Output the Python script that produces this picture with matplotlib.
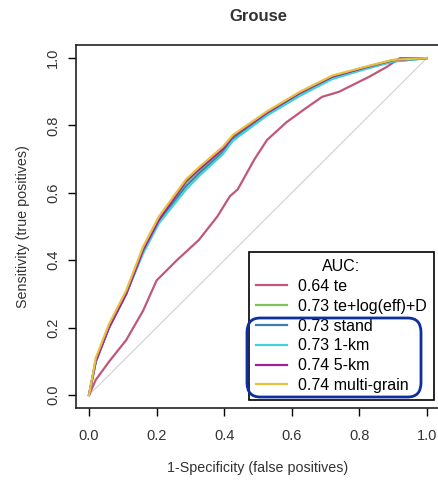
import numpy as np
import matplotlib
matplotlib.use("Agg")
import matplotlib.pyplot as plt
from matplotlib.patches import FancyBboxPatch

plt.rcParams['font.family'] = ['Liberation Sans', 'DejaVu Sans']

# ROC curves (false positive rate, true positive rate)
fpr_te = [0.0, 0.02, 0.06, 0.11, 0.16, 0.2, 0.26, 0.325, 0.38, 0.417, 0.44, 0.49, 0.527, 0.585, 0.64, 0.69, 0.74, 0.78, 0.83, 0.88, 0.92, 1.0]
tpr_te = [0.0, 0.045, 0.1, 0.163, 0.25, 0.34, 0.4, 0.46, 0.53, 0.59, 0.61, 0.7, 0.757, 0.81, 0.85, 0.885, 0.9, 0.92, 0.945, 0.973, 1.0, 1.0]

fpr_main = [0.0, 0.02, 0.059, 0.11, 0.16, 0.207, 0.287, 0.328, 0.396, 0.426, 0.527, 0.624, 0.72, 0.82, 0.9, 1.0]
tpr_green = [0.0, 0.1, 0.2, 0.3, 0.43, 0.52, 0.63, 0.668, 0.727, 0.766, 0.837, 0.896, 0.944, 0.973, 0.994, 1.0]
tpr_stand = [0.0, 0.1, 0.2, 0.3, 0.425, 0.515, 0.62, 0.66, 0.72, 0.76, 0.832, 0.89, 0.94, 0.97, 0.99, 1.0]
tpr_1km = [0.0, 0.1, 0.2, 0.3, 0.42, 0.51, 0.61, 0.652, 0.715, 0.755, 0.83, 0.888, 0.938, 0.968, 0.99, 1.0]
tpr_5km = [0.0, 0.1, 0.2, 0.3, 0.43, 0.52, 0.635, 0.672, 0.73, 0.768, 0.838, 0.897, 0.945, 0.973, 0.994, 1.0]
tpr_multi = [0.0, 0.11, 0.21, 0.31, 0.44, 0.53, 0.64, 0.678, 0.737, 0.772, 0.842, 0.9, 0.948, 0.975, 0.995, 1.0]

labels = ["0.64 te", "0.73 te+log(eff)+D", "0.73 stand", "0.73 1-km", "0.74 5-km", "0.74 multi-grain"]
colors = ["#c0577a", "#7cc35a", "#3f7fa8", "#3fd4d4", "#a0209a", "#e8c040"]

fig = plt.figure(figsize=(4.39, 4.8), dpi=100)
ax = fig.add_axes([0.172, 0.149, 0.831, 0.758])

ax.plot([0, 1], [0, 1], color="#d0d0d0", linewidth=0.8)
series = [(fpr_te, tpr_te), (fpr_main, tpr_green), (fpr_main, tpr_stand),
          (fpr_main, tpr_1km), (fpr_main, tpr_5km), (fpr_main, tpr_multi)]
for (xs, ys), lab, col in zip(series, labels, colors):
    ax.plot(xs, ys, color=col, linewidth=1.6, label=lab)

ax.set_xlim(-0.04, 1.04)
ax.set_ylim(-0.04, 1.04)
ticks = [0.0, 0.2, 0.4, 0.6, 0.8, 1.0]
ax.set_xticks(ticks)
ax.set_yticks(ticks)
ax.set_xticklabels([f"{t:.1f}" for t in ticks], fontsize=10.5, color="#333333")
ax.set_yticklabels([f"{t:.1f}" for t in ticks], fontsize=10.5, color="#333333",
                   rotation=90, va="center")
ax.tick_params(axis="x", length=6, width=1, pad=9)
ax.tick_params(axis="y", length=6, width=1, pad=5)
for s in ax.spines.values():
    s.set_linewidth(1.2)
    s.set_color("#222222")

ax.set_xlabel("1-Specificity (false positives)", fontsize=10.3, labelpad=13, color="#333333")
ax.set_ylabel("Sensitivity (true positives)", fontsize=10.3, labelpad=12, color="#333333")
ax.set_title("Grouse", fontsize=12, fontweight="bold", pad=17, color="#333333")

leg = ax.legend(title="AUC:", loc="lower right", bbox_to_anchor=(0.982, 0.023),
                borderaxespad=0, fontsize=11.5, title_fontsize=11.5, fancybox=False,
                edgecolor="black", handlelength=1.9, handletextpad=0.7, borderpad=0.45,
                labelspacing=0.3, framealpha=1)
leg.get_frame().set_linewidth(1.2)

# blue rounded highlight box around the grain models
box = FancyBboxPatch((247 / 439, (480 - 397) / 480), (421 - 247) / 439, (397 - 318) / 480,
                     boxstyle="round,pad=0,rounding_size=0.03", transform=fig.transFigure,
                     fill=False, edgecolor="#0d2fa0", linewidth=2, zorder=10)
fig.patches.append(box)

plt.savefig("out.png", dpi=100)
